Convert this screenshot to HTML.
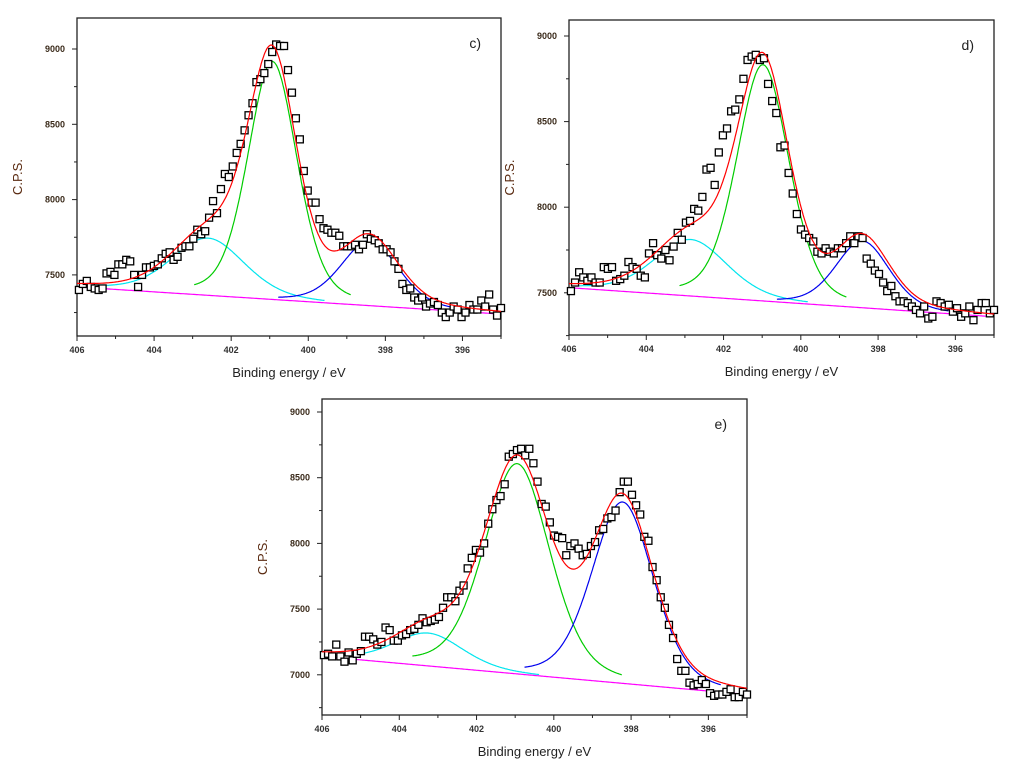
<!DOCTYPE html>
<html><head><meta charset="utf-8"><style>
body{margin:0;background:#fff;}
svg{display:block;font-family:"Liberation Sans",sans-serif;}
</style></head><body>
<svg id="chart" width="1024" height="777"></svg>
<script>
const xTicks=[406,404,402,400,398,396];
const yTicks=[7000,7500,8000,8500,9000];
const valsC=[7400,7440,7460,7420,7410,7400,7410,7510,7520,7500,7570,7570,7600,7590,7500,7420,7500,7550,7550,7560,7570,7610,7640,7650,7600,7620,7680,7690,7690,7740,7800,7770,7790,7880,7990,7910,8070,8170,8150,8220,8310,8370,8460,8560,8640,8780,8800,8840,8900,8980,9030,9020,9020,8860,8710,8540,8400,8190,8060,7980,7980,7870,7810,7800,7780,7780,7760,7690,7690,7690,7700,7670,7700,7770,7740,7730,7710,7670,7670,7650,7590,7540,7440,7400,7410,7350,7330,7350,7290,7310,7320,7300,7250,7220,7250,7290,7270,7220,7250,7300,7270,7270,7330,7290,7370,7270,7230,7280];
const valsD=[7510,7560,7620,7590,7570,7590,7560,7560,7650,7640,7650,7570,7580,7600,7680,7650,7640,7600,7590,7730,7790,7720,7700,7750,7690,7770,7850,7810,7910,7920,7990,7980,8060,8220,8230,8130,8320,8420,8460,8560,8570,8630,8750,8860,8880,8890,8860,8870,8720,8620,8550,8350,8360,8200,8080,7960,7870,7840,7820,7800,7740,7730,7760,7740,7730,7760,7760,7790,7830,7790,7830,7820,7700,7670,7630,7610,7560,7510,7540,7480,7450,7450,7440,7420,7400,7380,7420,7350,7360,7450,7440,7420,7430,7390,7410,7360,7380,7420,7340,7400,7440,7440,7380,7400];
const valsE=[7150,7160,7140,7230,7140,7100,7170,7110,7160,7180,7290,7290,7270,7230,7250,7360,7340,7260,7260,7300,7310,7340,7350,7380,7430,7400,7410,7420,7440,7510,7590,7590,7560,7640,7680,7810,7890,7950,7930,8000,8150,8260,8330,8360,8450,8660,8680,8710,8720,8670,8720,8610,8470,8300,8280,8160,8060,8050,8040,7910,7980,8000,7960,7910,7920,7980,8010,8100,8110,8190,8200,8250,8390,8470,8470,8370,8290,8220,8050,8020,7820,7720,7590,7510,7380,7280,7120,7030,7030,6940,6920,6930,6960,6930,6860,6840,6850,6850,6870,6890,6830,6830,6870,6850];
// components: [center, height, sigma]
const baseC=[7420,7240], greenC=[400.93,1580,0.64], cyanC=[402.6,380,0.95], blueC=[398.4,430,0.75];
const baseD=[7530,7360], greenD=[400.98,1380,0.68], cyanD=[402.85,330,0.95], blueD=[398.4,390,0.7];
const baseE=[7140,6850], greenE=[400.95,1600,0.85], cyanE=[403.25,250,0.9], blueE=[398.22,1380,0.8];

const NS="http://www.w3.org/2000/svg";
const svg=document.getElementById('chart');
function mk(t,a,p){const e=document.createElementNS(NS,t);for(const k in a)e.setAttribute(k,a[k]);(p||svg).appendChild(e);return e;}
function pv(x,c){const d=x-c[0];const g=Math.exp(-d*d/(2*c[2]*c[2]));const w=c[2]*1.177;const l=1/(1+d*d/(w*w));return c[1]*(0.7*g+0.3*l);}

function panel(o){
  const g=mk('g',{});
  
  
  const X=v=>o.x0+(406-v)/11*(o.x1-o.x0);
  const Y=v=>o.y9-(v-9000)*o.k;
  const base=x=>o.base[0]+(406-x)/11*(o.base[1]-o.base[0]);
  const frame=mk('rect',{x:o.x0,y:o.yt,width:o.x1-o.x0,height:o.yb-o.yt,fill:'none',stroke:'#222','stroke-width':1.3},g);
  
  
  for(let v=406;v>=395;v--){const x=X(v);mk('line',{x1:x,x2:x,y1:o.yb,y2:o.yb+(v%2==0?5:3),stroke:'#222'},g);}
  xTicks.forEach(v=>{const t=mk('text',{x:X(v),y:o.yb+17,'font-size':9,'font-weight':'bold','text-anchor':'middle',fill:'#333'},g);t.textContent=v;
    });
  for(let v=6750;v<=9250;v+=250){const y=Y(v);if(y<o.yt-1||y>o.yb+1)continue;mk('line',{x1:o.x0,x2:o.x0-(v%500==0?5:3),y1:y,y2:y,stroke:'#222'},g);}
  yTicks.forEach(v=>{const y=Y(v);if(y<o.yt||y>o.yb)return;const t=mk('text',{x:o.x0-12,y:y+3,'font-size':9,'font-weight':'bold','text-anchor':'end',fill:'#3a2a1a'},g);t.textContent=v;
    });
  const xt=mk('text',{x:(o.x0+o.x1)/2,y:o.yb+41,'font-size':13,'text-anchor':'middle',fill:'#222'},g);xt.textContent='Binding energy / eV';
  
  const ym=(o.yt+o.yb)/2;
  const yt=mk('text',{x:o.x0-55,y:ym,'font-size':13,'text-anchor':'middle',fill:'#5a2a10',transform:`rotate(-90 ${o.x0-55} ${ym})`},g);yt.textContent='C.P.S.';
  
  const lb=mk('text',{x:o.x1-20,y:o.yt+30,'font-size':14,'text-anchor':'end',fill:'#222'},g);lb.textContent=o.label;
  
  function curve(fn,col,name,from,to,keep){let d='';for(let x=from;x>=to-1e-9;x-=0.02){if(keep&&!keep(x))continue;d+=(d?'L':'M')+X(x).toFixed(1)+','+Y(fn(x)).toFixed(1);}
    const p=mk('path',{d:d,fill:'none',stroke:col,'stroke-width':1.2},g);}
  const comp=(c,col,name)=>curve(x=>base(x)+pv(x,c),col,name,406,395,x=>pv(x,c)>0.04*c[1]);
  comp(o.cyan,'#00e5ee','cyan-component');
  comp(o.green,'#00cc00','green-component');
  comp(o.blue,'#0000ee','blue-component');
  curve(base,'#ff00ff','baseline',406,395);
  const pts=mk('g',{},g);
  const n=o.vals.length;
  o.vals.forEach((v,i)=>{const e=405.95-i*10.95/(n-1);const r=mk('rect',{x:X(e)-3.5,y:Y(v)-3.5,width:7,height:7,fill:'#fff',stroke:'#000','stroke-width':1.3},pts);
    });
  curve(x=>base(x)+pv(x,o.green)+pv(x,o.cyan)+pv(x,o.blue),'#ff0000','fit-envelope',406,395);
}
panel({name:'panel-c',label:'c)',x0:77,x1:501,yt:18,yb:336,y9:49,k:75.3/500,vals:valsC,base:baseC,green:greenC,cyan:cyanC,blue:blueC});
panel({name:'panel-d',label:'d)',x0:569,x1:994,yt:20,yb:335,y9:36,k:85.6/500,vals:valsD,base:baseD,green:greenD,cyan:cyanD,blue:blueD});
panel({name:'panel-e',label:'e)',x0:322,x1:747,yt:399,yb:715,y9:412,k:65.7/500,vals:valsE,base:baseE,green:greenE,cyan:cyanE,blue:blueE});
</script>
</body></html>
